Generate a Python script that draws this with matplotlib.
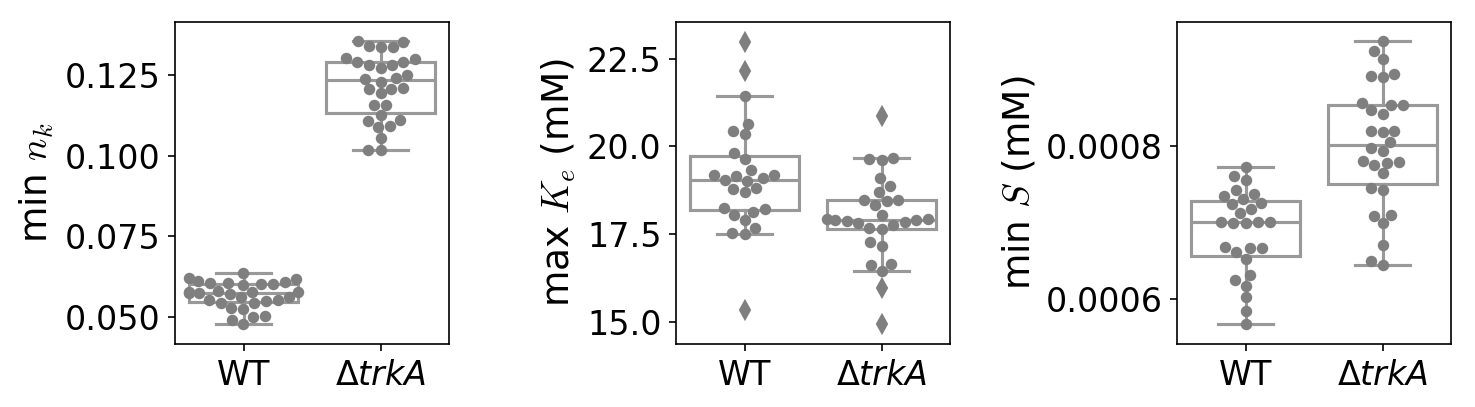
import numpy as np
import pandas as pd
import matplotlib
matplotlib.use("Agg")
import matplotlib.pyplot as plt
import seaborn as sns

groups = ["WT", "ΔtrkA"]
tick_labels = ["WT", r"Δ$trkA$"]

# min n_k per cell
nk_wt = [0.0637, 0.0620, 0.0618, 0.0601, 0.0600, 0.0599, 0.0610, 0.0608, 0.0605, 0.0604,
         0.0579, 0.0577, 0.0576, 0.0575, 0.0573, 0.0570, 0.0574, 0.0561, 0.0560, 0.0553,
         0.0551, 0.0550, 0.0543, 0.0541, 0.0527, 0.0525, 0.0501, 0.0499, 0.0490, 0.0476]
nk_trka = [0.1356, 0.1354, 0.1339, 0.1337, 0.1336, 0.1303, 0.1300, 0.1292, 0.1290, 0.1282,
           0.1280, 0.1271, 0.1251, 0.1241, 0.1239, 0.1229, 0.1210, 0.1208, 0.1206, 0.1193,
           0.1158, 0.1156, 0.1126, 0.1111, 0.1109, 0.1091, 0.1089, 0.1054, 0.1018, 0.1016]

# max K_e (mM)
ke_wt = [22.97, 22.14, 21.43, 20.65, 20.43, 20.34, 19.80, 19.64, 19.33, 19.19,
         19.18, 19.17, 19.09, 19.05, 19.03, 18.82, 18.80, 18.71, 18.25, 18.23,
         18.14, 18.05, 17.91, 17.69, 17.54, 17.52, 15.35]
ke_trka = [20.86, 19.66, 19.64, 19.62, 19.09, 18.88, 18.71, 18.49, 18.47, 18.45,
           18.33, 18.05, 17.94, 17.93, 17.92, 17.91, 17.87, 17.85, 17.81, 17.76,
           17.68, 17.66, 17.29, 17.18, 16.66, 16.64, 16.46, 15.97, 14.94]

# min S (mM)
s_wt = [0.000773, 0.000760, 0.000755, 0.000742, 0.000737, 0.000735, 0.000730, 0.000725,
        0.000724, 0.000718, 0.000712, 0.000701, 0.000700, 0.000700, 0.000699, 0.000699,
        0.000668, 0.000667, 0.000666, 0.000661, 0.000652, 0.000631, 0.000625, 0.000617,
        0.000602, 0.000584, 0.000567]
s_trka = [0.000937, 0.000924, 0.000913, 0.000894, 0.000892, 0.000890, 0.000856, 0.000854,
          0.000853, 0.000847, 0.000842, 0.000820, 0.000819, 0.000818, 0.000805, 0.000797,
          0.000793, 0.000780, 0.000779, 0.000778, 0.000775, 0.000764, 0.000745, 0.000743,
          0.000710, 0.000709, 0.000699, 0.000671, 0.000650, 0.000644]

ylabels = [r"min $n_k$", r"max $K_e$ (mM)", r"min $S$ (mM)"]
yticks = [[0.050, 0.075, 0.100, 0.125], [15.0, 17.5, 20.0, 22.5], [0.0006, 0.0008]]
yticklabels = [["0.050", "0.075", "0.100", "0.125"], ["15.0", "17.5", "20.0", "22.5"],
               ["0.0006", "0.0008"]]
ylims = [(0.0415, 0.1415), (14.38, 23.54), (0.000541, 0.000962)]
data = [(nk_wt, nk_trka), (ke_wt, ke_trka), (s_wt, s_trka)]

box_gray = "#999999"
dot_gray = "#7f7f7f"
fs = 16
label_fs = 18

fig = plt.figure(figsize=(1475 / 150, 407 / 150), dpi=150)
lefts = [175, 676, 1177]

for i, (wt, mut) in enumerate(data):
    ax = fig.add_axes([lefts[i] / 1475, 1 - 344 / 407, 274 / 1475, 322 / 407])
    ax.boxplot([wt, mut], positions=[0, 1], widths=0.8, patch_artist=True,
               boxprops=dict(facecolor="white", edgecolor=box_gray, linewidth=1.5),
               whiskerprops=dict(color=box_gray, linewidth=1.5),
               capprops=dict(color=box_gray, linewidth=1.5),
               medianprops=dict(color=box_gray, linewidth=1.5),
               flierprops=dict(marker="d", markerfacecolor=dot_gray,
                               markeredgecolor=dot_gray, markersize=6))

    # swarm only the points inside the whiskers, outliers are the diamonds
    rows = []
    for g, vals in zip(groups, (wt, mut)):
        v = np.array(vals)
        q1, q3 = np.percentile(v, [25, 75])
        iqr = q3 - q1
        keep = v[(v >= q1 - 1.5 * iqr) & (v <= q3 + 1.5 * iqr)]
        rows += [(g, x) for x in keep]
    df = pd.DataFrame(rows, columns=["group", "value"])
    sns.swarmplot(data=df, x="group", y="value", order=groups, color=dot_gray,
                  size=5.5, ax=ax, zorder=3)

    ax.set_xlim(-0.5, 1.5)
    ax.set_ylim(*ylims[i])
    ax.set_xticks([0, 1])
    ax.set_xticklabels(tick_labels, fontsize=fs)
    ax.set_yticks(yticks[i])
    ax.set_yticklabels(yticklabels[i], fontsize=fs)
    ax.set_xlabel("")
    ax.set_ylabel(ylabels[i], fontsize=label_fs, math_fontfamily="cm")

fig.savefig("out.png", dpi=150)
